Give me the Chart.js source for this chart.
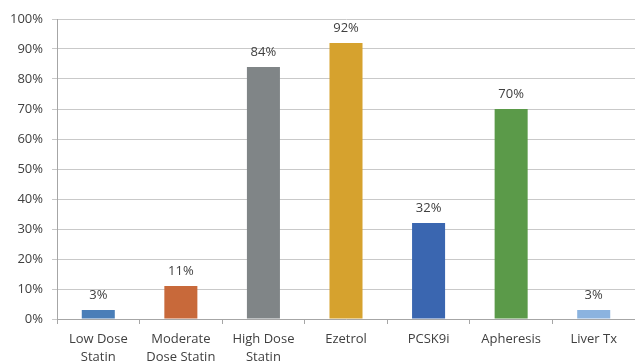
<!DOCTYPE html>
<html>
<head>
<meta charset="utf-8">
<script src="https://cdn.jsdelivr.net/npm/chart.js@4/dist/chart.umd.min.js"></script>
<style>
  html, body { margin: 0; padding: 0; background: #ffffff; }
  #wrap { width: 635px; height: 361px; position: relative; }
</style>
</head>
<body>
<div id="wrap"><canvas id="c" width="635" height="361"></canvas></div>
<script>
// Therapy categories (multi-line labels) and share of patients, in percent
const categories = [
  ['Low Dose', 'Statin'],
  ['Moderate', 'Dose Statin'],
  ['High Dose', 'Statin'],
  'Ezetrol',
  'PCSK9i',
  'Apheresis',
  'Liver Tx'
];
const percentages = [3, 11, 84, 92, 32, 70, 3];
const yTickValues = [0, 10, 20, 30, 40, 50, 60, 70, 80, 90, 100];

// One fill per bar
const barColors = ['#4a7eb8', '#c8693a', '#808587', '#d6a22e', '#3a66b0', '#5b9a49', '#8bb3df'];

const textColor = '#404040';
const baseFont = { family: '"Open Sans", "Liberation Sans", sans-serif', size: 13 };

// Writes the percentage above each bar
const valueLabels = {
  id: 'valueLabels',
  afterDatasetsDraw(chart) {
    const ctx = chart.ctx;
    const meta = chart.getDatasetMeta(0);
    ctx.save();
    ctx.font = `${baseFont.size}px ${baseFont.family}`;
    ctx.fillStyle = textColor;
    ctx.textAlign = 'center';
    ctx.textBaseline = 'middle';
    meta.data.forEach((bar, i) => {
      ctx.fillText(percentages[i] + '%', bar.x, bar.y - 15);
    });
    ctx.restore();
  }
};

new Chart(document.getElementById('c'), {
  type: 'bar',
  data: {
    labels: categories,
    datasets: [{
      data: percentages,
      backgroundColor: barColors,
      borderWidth: 0,
      barPercentage: 0.4,
      categoryPercentage: 1.0
    }]
  },
  options: {
    responsive: false,
    animation: false,
    devicePixelRatio: 1,
    layout: { padding: { top: 19, right: 0, bottom: 0, left: 0 } },
    plugins: {
      legend: { display: false },
      tooltip: { enabled: false }
    },
    scales: {
      x: {
        offset: true,
        grid: {
          offset: true,
          drawOnChartArea: false,
          drawTicks: true,
          tickLength: 5,
          color: '#a6a6a6'
        },
        border: { display: true, color: '#a6a6a6' },
        ticks: {
          color: textColor,
          font: Object.assign({ lineHeight: '18px' }, baseFont),
          padding: 6,
          maxRotation: 0,
          autoSkip: false
        },
        afterFit(scale) { scale.height = 42; }
      },
      y: {
        min: 0,
        max: 100,
        afterBuildTicks(scale) {
          scale.ticks = yTickValues.map(v => ({ value: v }));
        },
        grid: {
          color: '#c9c9c9',
          drawTicks: true,
          tickLength: 5
        },
        border: { display: true, color: '#a6a6a6' },
        ticks: {
          color: textColor,
          font: baseFont,
          padding: 9,
          callback: v => v + '%'
        },
        afterFit(scale) { scale.width = 57; }
      }
    }
  },
  plugins: [valueLabels]
});
</script>
</body>
</html>
